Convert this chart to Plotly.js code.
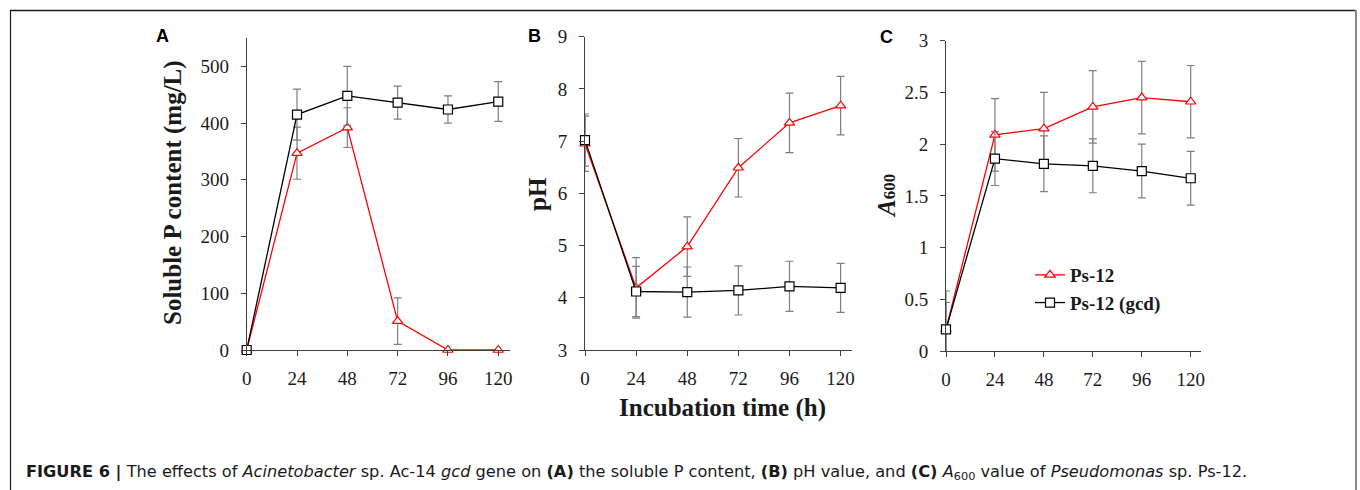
<!DOCTYPE html>
<html>
<head>
<meta charset="utf-8">
<script src="https://cdn.plot.ly/plotly-3.0.1.min.js"></script>
<style>html,body{margin:0;padding:0;background:#fff;}#chart{width:1360px;height:490px;}</style>
</head>
<body>
<div id="chart"></div>
<script>
// Incubation time (h)
var hours = [0, 24, 48, 72, 96, 120];
var hourTicks = ['0', '24', '48', '72', '96', '120'];

// Panel A: soluble P content (mg/L)
var solP_ps12 = [0, 347, 392, 51, 0, 0];
var solP_ps12_err = [0, 46, 35, 41, 0, 0];
var solP_gcd = [0, 415, 448, 436, 424, 438];
var solP_gcd_err = [0, 45, 52, 29, 24, 35];

// Panel B: pH
var pH_ps12 = [6.95, 4.19, 4.98, 6.49, 7.35, 7.68];
var pH_ps12_err = [0.53, 0.58, 0.57, 0.56, 0.57, 0.56];
var pH_gcd = [7.02, 4.12, 4.11, 4.14, 4.22, 4.19];
var pH_gcd_err = [0.5, 0.48, 0.48, 0.47, 0.48, 0.47];

// Panel C: A600
var a600_ps12 = [0.21, 2.09, 2.15, 2.36, 2.45, 2.41];
var a600_ps12_err = [0.37, 0.35, 0.35, 0.35, 0.35, 0.35];
var a600_gcd = [0.21, 1.86, 1.81, 1.79, 1.74, 1.67];
var a600_gcd_err = [0.26, 0.26, 0.27, 0.26, 0.26, 0.26];

var seriesNames = ['Ps-12', 'Ps-12 (gcd)'];
var tickA = [0, 100, 200, 300, 400, 500];
var tickB = [3, 4, 5, 6, 7, 8, 9];
var tickC = [0, 0.5, 1, 1.5, 2, 2.5, 3];
var tickCText = ['0', '0.5', '1', '1.5', '2', '2.5', '3'];

var W = 1360, H = 490;
function px(x) { return x / W; }
function py(y) { return (H - y) / H; }

var RED = '#ff0000', BLK = '#000000', ERR = '#7f7f7f';

function redTrace(y, e, xa, ya, show) {
  return {
    x: hours, y: y, xaxis: xa, yaxis: ya, type: 'scatter', mode: 'lines+markers',
    name: seriesNames[0], showlegend: show, legendgroup: 'a', cliponaxis: false,
    line: { color: RED, width: 1.3 },
    marker: { symbol: 'triangle-up', size: 9, color: '#ffffff', line: { color: RED, width: 1.2 } },
    error_y: { type: 'data', array: e, visible: true, color: ERR, thickness: 1.2, width: 4 }
  };
}
function blkTrace(y, e, xa, ya, show) {
  return {
    x: hours, y: y, xaxis: xa, yaxis: ya, type: 'scatter', mode: 'lines+markers',
    name: seriesNames[1], showlegend: show, legendgroup: 'b', cliponaxis: false,
    line: { color: BLK, width: 1.3 },
    marker: { symbol: 'square', size: 9, color: '#ffffff', line: { color: BLK, width: 1.2 } },
    error_y: { type: 'data', array: e, visible: true, color: ERR, thickness: 1.2, width: 4 }
  };
}

var data = [
  redTrace(solP_ps12, solP_ps12_err, 'x', 'y', false),
  blkTrace(solP_gcd, solP_gcd_err, 'x', 'y', false),
  redTrace(pH_ps12, pH_ps12_err, 'x2', 'y2', false),
  blkTrace(pH_gcd, pH_gcd_err, 'x2', 'y2', false),
  redTrace(a600_ps12, a600_ps12_err, 'x3', 'y3', true),
  blkTrace(a600_gcd, a600_gcd_err, 'x3', 'y3', true)
];

var tickFont = { family: 'Liberation Serif, Times New Roman, serif', size: 19, color: '#1a1a1a' };
function xAxis(dom, rng, ya) {
  return {
    domain: dom, range: rng, anchor: ya, tickvals: hours, ticktext: hourTicks,
    showgrid: false, zeroline: false, showline: true, linecolor: '#404040', linewidth: 1,
    ticks: 'outside', ticklen: 5, tickcolor: '#404040', tickfont: tickFont, ticklabelstandoff: 6,
    fixedrange: true
  };
}
function yAxis(dom, rng, xa, tv, tt) {
  var a = {
    domain: dom, range: rng, anchor: xa, tickvals: tv,
    showgrid: false, zeroline: false, showline: true, linecolor: '#404040', linewidth: 1,
    ticks: 'outside', ticklen: 5, tickcolor: '#404040', tickfont: tickFont, ticklabelstandoff: 8,
    fixedrange: true
  };
  if (tt) a.ticktext = tt;
  return a;
}

var titleFont = { family: 'Liberation Serif, Times New Roman, serif', size: 25, color: '#1a1a1a' };
var panelFont = { family: 'Liberation Sans, Arial, sans-serif', size: 18, color: '#000' };

var layout = {
  width: W, height: H, margin: { l: 0, r: 0, t: 0, b: 0 },
  paper_bgcolor: '#ffffff', plot_bgcolor: 'rgba(0,0,0,0)',
  showlegend: true,
  xaxis: xAxis([px(246.7), px(510)], [0, 125.6], 'y'),
  yaxis: yAxis([py(350), py(38)], [0, 550], 'x', tickA),
  xaxis2: xAxis([px(585), px(851.7)], [0, 125.2], 'y2'),
  yaxis2: yAxis([py(350), py(36.7)], [3, 9], 'x2', tickB),
  xaxis3: xAxis([px(946), px(1200.7)], [0, 124.9], 'y3'),
  yaxis3: yAxis([py(351), py(40.7)], [0, 3], 'x3', tickC, tickCText),
  legend: {
    x: px(1030), y: py(256), xanchor: 'left', yanchor: 'top',
    bgcolor: 'rgba(0,0,0,0)', borderwidth: 0, itemwidth: 30, tracegroupgap: 0,
    font: { family: 'Liberation Serif, Times New Roman, serif', size: 19, color: '#1a1a1a', weight: 'bold' }
  },
  annotations: [
    { text: '<b>Soluble P content (mg/L)</b>', xref: 'paper', yref: 'paper', x: px(173), y: py(193),
      textangle: -90, showarrow: false, font: titleFont, xanchor: 'center', yanchor: 'middle' },
    { text: '<b>pH</b>', xref: 'paper', yref: 'paper', x: px(537), y: py(194),
      textangle: -90, showarrow: false, font: titleFont, xanchor: 'center', yanchor: 'middle' },
    { text: '<b><i>A</i></b><b><span style="font-size:17px">600</span></b>', xref: 'paper', yref: 'paper', x: px(886), y: py(196),
      textangle: -90, showarrow: false, font: titleFont, xanchor: 'center', yanchor: 'middle' },
    { text: '<b>Incubation time (h)</b>', xref: 'paper', yref: 'paper', x: px(722), y: py(408),
      showarrow: false, font: titleFont, xanchor: 'center', yanchor: 'middle' },
    { text: '<b>A</b>', xref: 'paper', yref: 'paper', x: px(162), y: py(36), showarrow: false, font: panelFont, xanchor: 'center', yanchor: 'middle' },
    { text: '<b>B</b>', xref: 'paper', yref: 'paper', x: px(534), y: py(36), showarrow: false, font: panelFont, xanchor: 'center', yanchor: 'middle' },
    { text: '<b>C</b>', xref: 'paper', yref: 'paper', x: px(886), y: py(37), showarrow: false, font: panelFont, xanchor: 'center', yanchor: 'middle' },
    { text: '<b>FIGURE 6 |</b> The effects of <i>Acinetobacter</i> sp. Ac-14 <i>gcd</i> gene on <b>(A)</b> the soluble P content, <b>(B)</b> pH value, and <b>(C)</b> <i>A</i><sub>600</sub> value of <i>Pseudomonas</i> sp. Ps-12.',
      xref: 'paper', yref: 'paper', x: px(24), y: py(472), showarrow: false, xanchor: 'left', yanchor: 'middle',
      font: { family: 'DejaVu Sans, Liberation Sans, Arial, sans-serif', size: 16.2, color: '#1a1a1a' } }
  ],
  shapes: [
    { type: 'line', xref: 'paper', yref: 'paper', x0: px(10), x1: px(1356), y0: py(10.5), y1: py(10.5), line: { color: '#1a1a1a', width: 1.5 } },
    { type: 'line', xref: 'paper', yref: 'paper', x0: px(10.5), x1: px(10.5), y0: py(10), y1: 0, line: { color: '#1a1a1a', width: 1.2 } },
    { type: 'line', xref: 'paper', yref: 'paper', x0: px(1356), x1: px(1356), y0: py(10), y1: 0, line: { color: '#8a8a8a', width: 2 } }
  ]
};

Plotly.newPlot('chart', data, layout, { displayModeBar: false, staticPlot: true });
</script>
</body>
</html>
